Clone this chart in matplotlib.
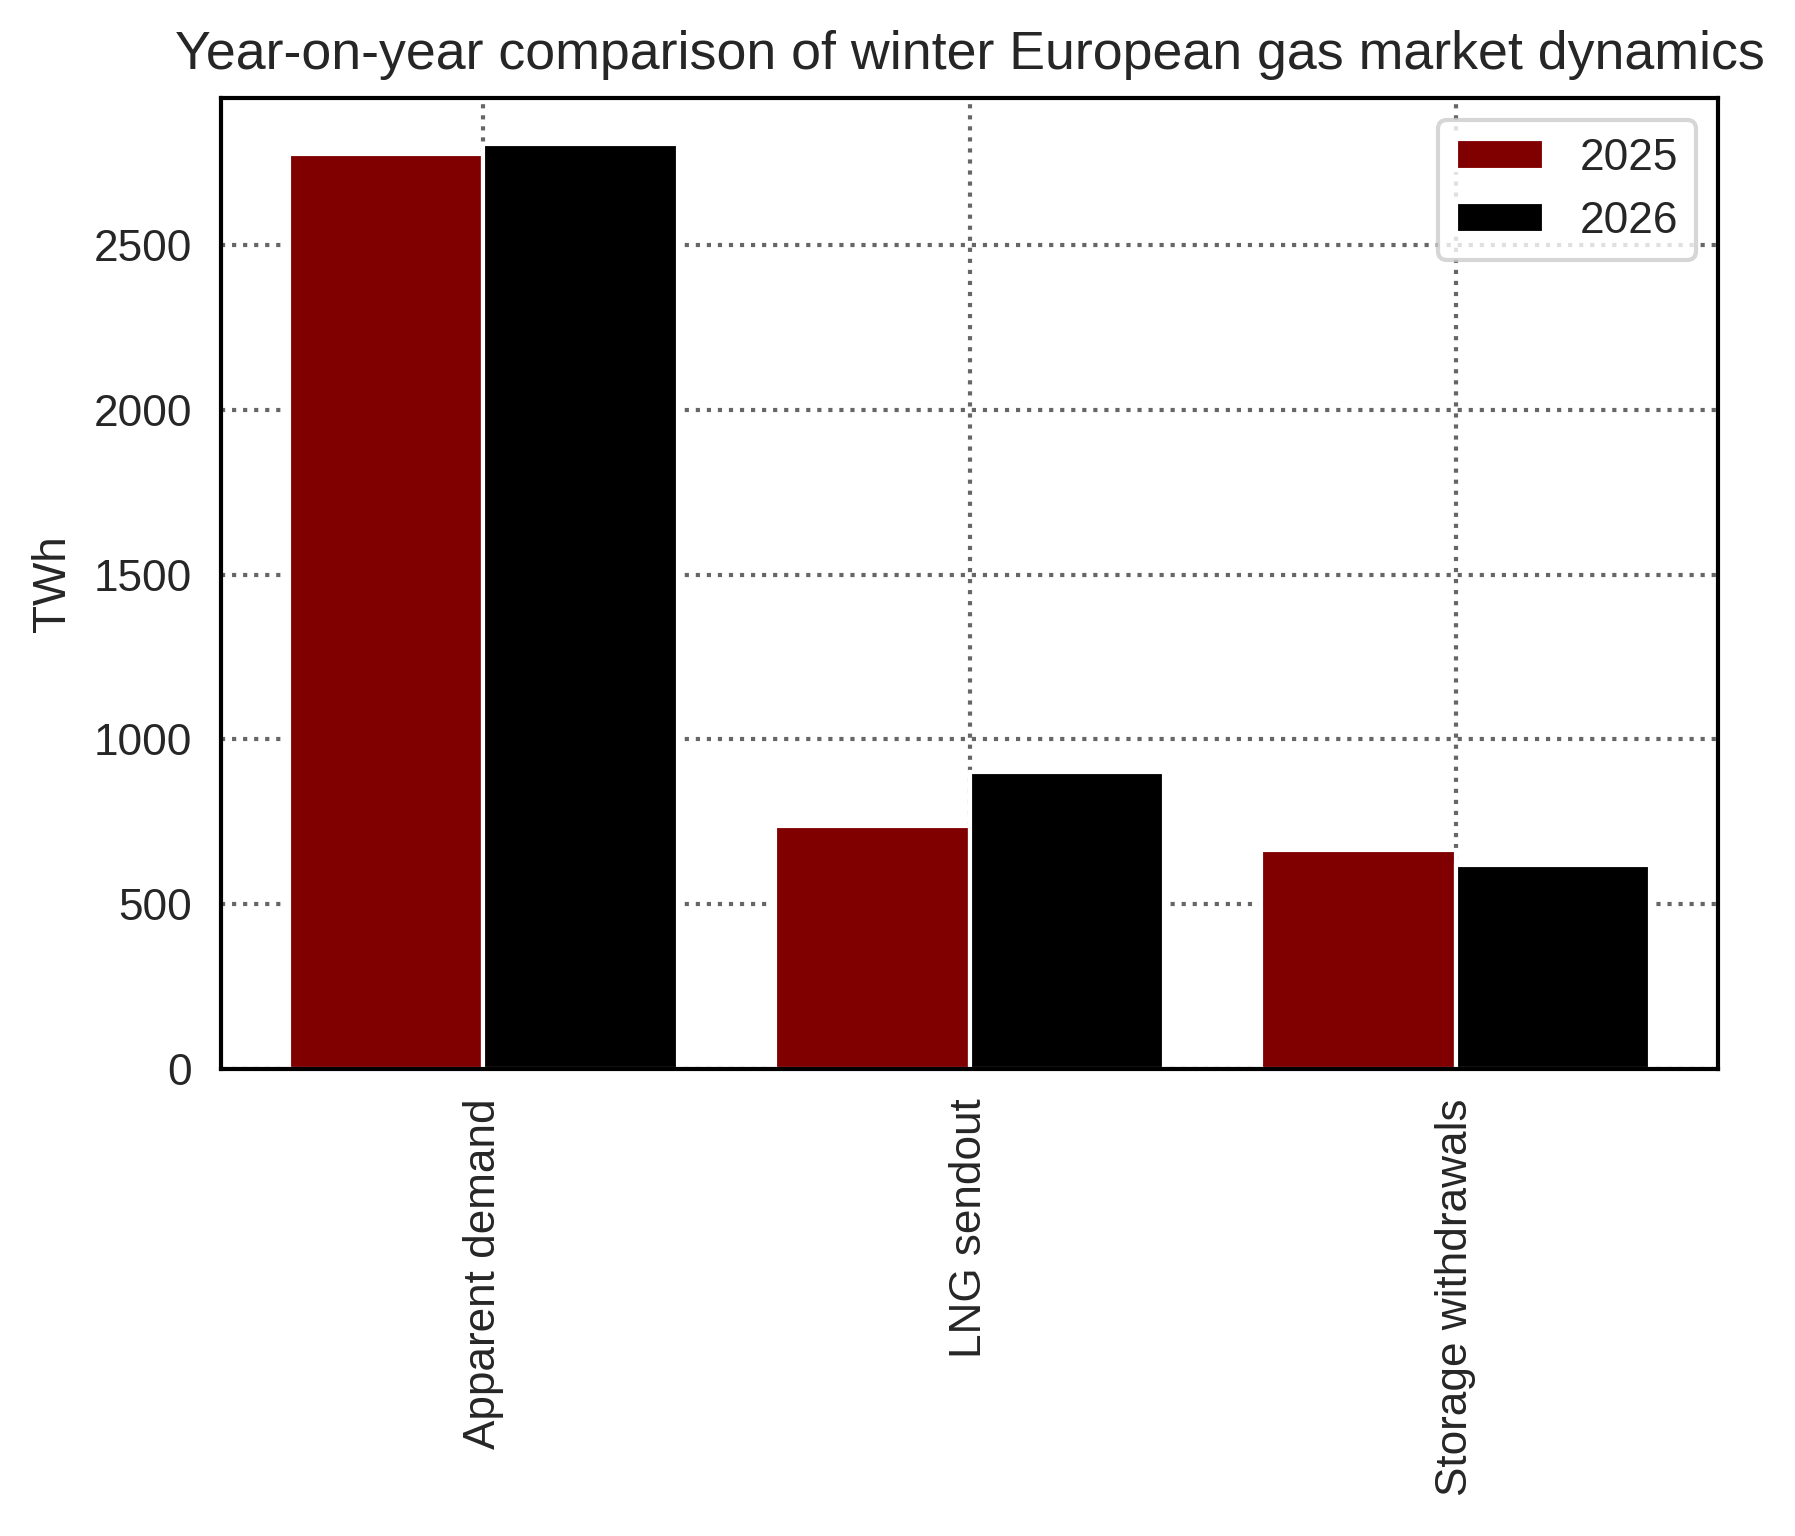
import matplotlib
matplotlib.use("Agg")
import matplotlib.pyplot as plt
import numpy as np

categories = ["Apparent demand", "LNG sendout", "Storage withdrawals"]
series_names = ["2025", "2026"]
values_2025 = [2776, 736, 664]
values_2026 = [2806, 902, 619]
colors = ["#800000", "#000000"]

plt.rcParams["font.family"] = ["Liberation Sans", "DejaVu Sans"]
text_color = "#262626"

fig = plt.figure(figsize=(1795 / 300, 1536 / 300), dpi=300)
ax = fig.add_axes([221 / 1795, 1 - 1069 / 1536, (1718 - 221) / 1795, (1069 - 98) / 1536])

x = np.arange(len(categories))
width = 0.4
for i, (name, vals) in enumerate(zip(series_names, [values_2025, values_2026])):
    ax.bar(x + (i - 0.5) * width, vals, width, color=colors[i], edgecolor="white",
           linewidth=1.0, label=name, zorder=2)

ax.set_xticks(x)
ax.set_xticklabels(categories, rotation=90, fontsize=10.6, color=text_color)
ax.tick_params(axis="y", labelsize=10.6, labelcolor=text_color, length=0, pad=7)
ax.tick_params(axis="x", length=0, pad=7)
ax.set_ylabel("TWh", fontsize=11, color=text_color, labelpad=4.5)
ax.set_title("Year-on-year comparison of winter European gas market dynamics",
             fontsize=12.9, color=text_color, pad=7)
ax.grid(True, linestyle=":", color="#666666", linewidth=1.0, zorder=0)
ax.set_axisbelow(True)
for s in ax.spines.values():
    s.set_color("black")
    s.set_linewidth(1.0)

leg = ax.legend(loc="upper right", fontsize=10.6, frameon=True, fancybox=True)
leg.get_frame().set_edgecolor("#cccccc")
for t in leg.get_texts():
    t.set_color(text_color)

fig.savefig("out.png", dpi=300)
